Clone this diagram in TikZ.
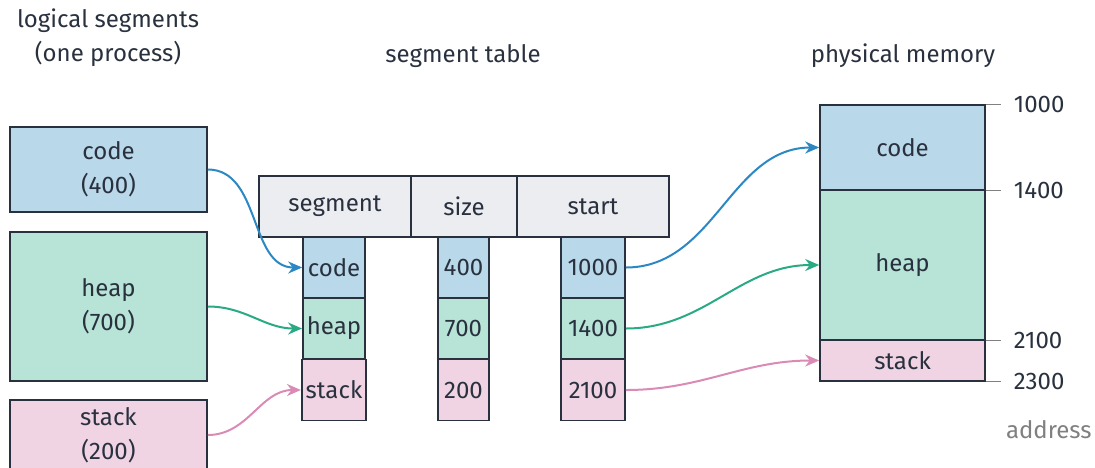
\documentclass[tikz,border=0pt]{standalone}
\usepackage{fontspec}
\setmainfont{Fira Sans}
\usetikzlibrary{positioning, arrows.meta}
\definecolor{ink}{HTML}{29313F}
\definecolor{codefill}{HTML}{B9D8E9}
\definecolor{heapfill}{HTML}{B8E4D7}
\definecolor{stackfill}{HTML}{F0D4E3}
\definecolor{codeline}{HTML}{2B88C2}
\definecolor{heapline}{HTML}{2AAA84}
\definecolor{stackline}{HTML}{D98BB6}
\definecolor{headfill}{HTML}{ECEDF0}

\begin{document}
\begin{tikzpicture}[%
		x=0.5pt, y=-0.5pt,
		every node/.style={
			text=ink,
			font=\fontsize{12}{17}\selectfont
		},
		title/.style={
			align=center
		},
		lseg/.style={
			rectangle,
			minimum width=98.5pt,
			align=center,
			draw=ink,
			thick
		},
		thead/.style={
			rectangle,
			minimum height=30.5pt,
			fill=headfill,
			draw=ink,
			thick
		},
		tcell/.style={
			rectangle,
			minimum height=30.5pt,
			inner sep=2pt,
			draw=ink,
			thick
		},
		pseg/.style={
			rectangle,
			minimum width=82.5pt,
			draw=ink,
			thick
		},
		addr/.style={
			anchor=west,
			xshift=3pt
		},
		tick/.style={
			gray,
			thin
		},
		flow/.style={
			line width=1pt,
			-{Stealth[length=7pt,width=6pt]},
			out=0,
			in=180
		}]

		\useasboundingbox (0,0) rectangle (1095,467);

		% TITLES

		\node (tlog) [title] at (108,38) {logical segments\\(one process)};
		\node (ttab) [title] at (463,56) {segment table};
		\node (tphy) [title] at (903,56) {physical memory};

		% LOGICAL SEGMENTS

		\node (lcode) [lseg, fill=codefill, minimum height=42.5pt] at (108.5,169.5) {code\\(400)};
		\node (lheap) [lseg, fill=heapfill, minimum height=74.5pt] at (108.5,306.5) {heap\\(700)};
		\node (lstack) [lseg, fill=stackfill, minimum height=35pt] at (108.5,435) {stack\\(200)};

		% SEGMENT TABLE

		\node (hseg) [thead, minimum width=76pt] at (335,206.5) {segment};
		\node (hsize) [thead, minimum width=53pt] at (464,206.5) {size};
		\node (hstart) [thead, minimum width=76pt] at (593,206.5) {start};

		\node (scode) [tcell, fill=codefill, minimum width=31pt] at (334,267.5) {code};
		\node (sheap) [tcell, fill=heapfill, minimum width=31pt] at (334,328.5) {heap};
		\node (sstack) [tcell, fill=stackfill, minimum width=31pt] at (334,390) {stack};

		\node (zcode) [tcell, fill=codefill, minimum width=25.5pt] at (463.5,267.5) {400};
		\node (zheap) [tcell, fill=heapfill, minimum width=25.5pt] at (463.5,328.5) {700};
		\node (zstack) [tcell, fill=stackfill, minimum width=25.5pt] at (463.5,390) {200};

		\node (bcode) [tcell, fill=codefill, minimum width=32pt] at (593,267.5) {1000};
		\node (bheap) [tcell, fill=heapfill, minimum width=32pt] at (593,328.5) {1400};
		\node (bstack) [tcell, fill=stackfill, minimum width=32pt] at (593,390) {2100};

		% PHYSICAL MEMORY

		\node (pcode) [pseg, fill=codefill, minimum height=42.5pt] at (902.5,147.5) {code};
		\node (pheap) [pseg, fill=heapfill, minimum height=75pt] at (902.5,265) {heap};
		\node (pstack) [pseg, fill=stackfill, minimum height=20.5pt] at (902.5,360.5) {stack};

		\draw[tick] (pcode.north east) -- ++(15,0) node[addr] {1000};
		\draw[tick] (pcode.south east) -- ++(15,0) node[addr] {1400};
		\draw[tick] (pheap.south east) -- ++(15,0) node[addr] {2100};
		\draw[tick] (pstack.south east) -- ++(15,0) node[addr] {2300};
		\node (laddr) [anchor=east, inner sep=1pt, text=gray] at (1094,430) {address};

		% LINES

		\draw[flow, codeline] (lcode.east) to (scode.west);
		\draw[flow, heapline] (lheap.east) to (sheap.west);
		\draw[flow, stackline] (lstack.east) to (sstack.west);

		\draw[flow, codeline] (bcode.east) to (pcode.west);
		\draw[flow, heapline] (bheap.east) to (pheap.west);
		\draw[flow, stackline] (bstack.east) to (pstack.west);
\end{tikzpicture}
\end{document}
